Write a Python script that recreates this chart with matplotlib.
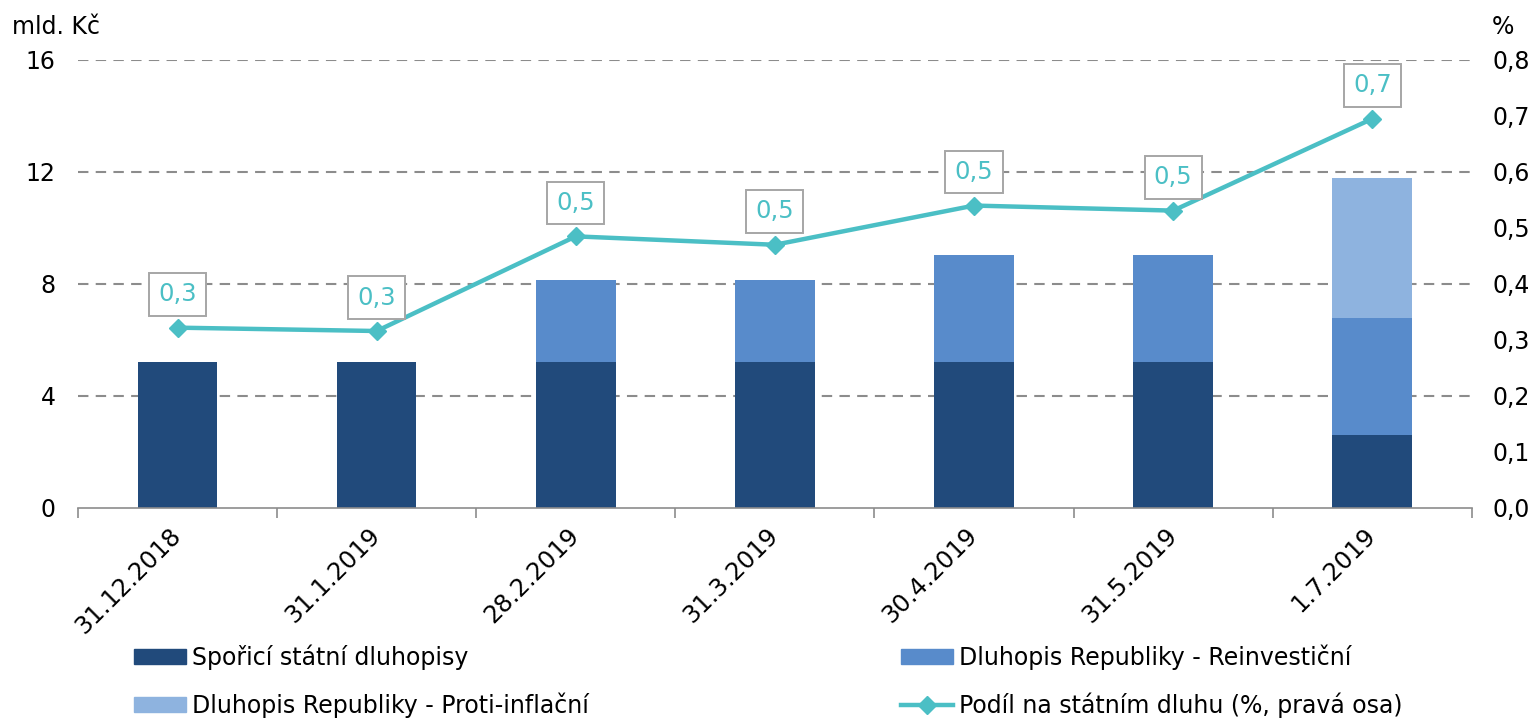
import numpy as np
import matplotlib
matplotlib.use("Agg")
import matplotlib.pyplot as plt
from matplotlib.lines import Line2D
from matplotlib.patches import Patch

# === Data ===
dates = ["31.12.2018", "31.1.2019", "28.2.2019", "31.3.2019", "30.4.2019", "31.5.2019", "1.7.2019"]
sporici = [5.2, 5.2, 5.2, 5.2, 5.2, 5.2, 2.6]
reinvest = [0.0, 0.0, 2.95, 2.95, 3.85, 3.85, 4.2]
proti = [0.0, 0.0, 0.0, 0.0, 0.0, 0.0, 5.0]
podil = [0.322, 0.316, 0.485, 0.470, 0.540, 0.531, 0.695]
podil_labels = ["0,3", "0,3", "0,5", "0,5", "0,5", "0,5", "0,7"]

c_dark = "#214A7B"
c_mid = "#588BCB"
c_light = "#8EB3DF"
c_line = "#4BBFC5"
c_grey = "#8C8C8C"

plt.rcParams['font.family'] = ['DejaVu Sans']
plt.rcParams['font.size'] = 17

fig = plt.figure(figsize=(15.38, 7.19), dpi=100)
ax = fig.add_axes([0.0507, 0.2935, 0.9063, 0.6231])
ax2 = ax.twinx()

x = np.arange(len(dates))
w = 0.4
b1 = np.array(sporici)
b2 = b1 + np.array(reinvest)
ax.bar(x, sporici, w, color=c_dark, zorder=2)
ax.bar(x, reinvest, w, bottom=b1, color=c_mid, zorder=2)
ax.bar(x, proti, w, bottom=b2, color=c_light, zorder=2)

ax.set_xlim(-0.5, len(dates) - 0.5)
ax.set_ylim(0, 16)
ax.set_yticks([0, 4, 8, 12, 16])
for yv in [4, 8, 12, 16]:
    ax.axhline(yv, color=c_grey, lw=1.5, ls=(0, (5, 3.5)), zorder=1)

ax.set_xticks(np.arange(-0.5, len(dates), 1.0))
ax.set_xticklabels([])
ax.set_xticks(x, minor=True)
ax.set_xticklabels(dates, minor=True, rotation=45, ha="right", va="center",
                   rotation_mode="anchor", fontsize=17.5)
ax.tick_params(axis="x", which="major", length=7, color=c_grey, width=1.2)
ax.tick_params(axis="x", which="minor", length=0, pad=17)
ax.tick_params(axis="y", length=0, pad=16, labelsize=17)

for s in ["top", "right", "left"]:
    ax.spines[s].set_visible(False)
    ax2.spines[s].set_visible(False)
ax.spines["bottom"].set_color(c_grey)
ax.spines["bottom"].set_linewidth(1.2)
ax2.spines["bottom"].set_visible(False)

# right axis line
ax2.plot(x, podil, color=c_line, lw=3.2, marker="D", ms=9, zorder=3)
ax2.set_ylim(0, 0.8)
ax2.set_yticks(np.arange(0, 0.81, 0.1))
ax2.set_yticklabels([f"{v:.1f}".replace(".", ",") for v in np.arange(0, 0.81, 0.1)])
ax2.tick_params(axis="y", length=0, pad=15, labelsize=17)

for xi, yi, lab in zip(x, podil, podil_labels):
    ax2.annotate(lab, (xi, yi), xytext=(0, 24), textcoords="offset points",
                 ha="center", va="center", color=c_line, fontsize=17.5,
                 bbox=dict(boxstyle="square,pad=0.38", fc="white", ec="#A6A6A6", lw=1.4))

fig.text(0.008, 0.962, "mld. Kč", fontsize=17, ha="left", va="center")
fig.text(0.970, 0.962, "%", fontsize=17, ha="left", va="center")

# === Legend ===
h1 = [Patch(color=c_dark), Patch(color=c_light)]
l1 = ["Spořicí státní dluhopisy", "Dluhopis Republiky - Proti-inflační"]
h2 = [Patch(color=c_mid), Line2D([], [], color=c_line, lw=3.2, marker="D", ms=9)]
l2 = ["Dluhopis Republiky - Reinvestiční", "Podíl na státním dluhu (%, pravá osa)"]
for hs, ls, xa in [(h1, l1, 0.087), (h2, l2, 0.586)]:
    fig.legend(hs, ls, loc="upper left", bbox_to_anchor=(xa, 0.104), frameon=False,
               fontsize=17, handlelength=2.2, handleheight=0.6, handletextpad=0.25,
               labelspacing=0.95, borderaxespad=0, borderpad=0)

fig.savefig("out.png", dpi=100)
